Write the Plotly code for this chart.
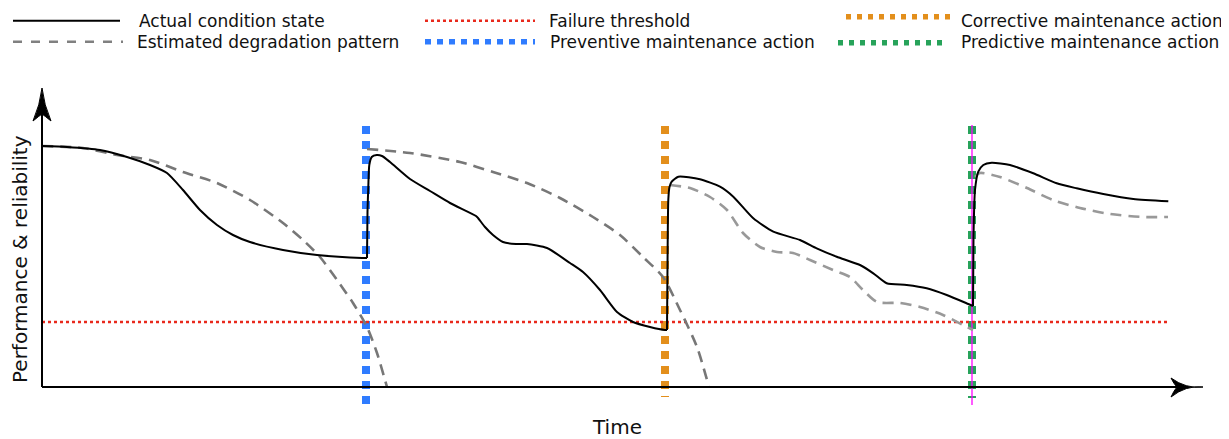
import plotly.graph_objects as go

# ---------------- data (time units, performance units) ----------------
actual_t1 = [0, 25, 58, 85, 108, 125, 141, 158, 175, 191, 208, 241, 275, 320, 325]
actual_p1 = [241, 240, 237, 230, 222, 214, 197, 177, 162, 152, 145, 137, 132, 129, 129]

actual_t2 = [325, 325.5, 326.3, 327.3, 329.7, 334.7, 340, 348, 368, 388, 408, 434, 436,
             443, 451, 461, 474, 485, 505, 528, 541, 558, 575, 591, 608, 623, 625]
actual_p2 = [129, 175, 200, 222, 230, 232, 231, 225, 208, 196, 184, 171, 169,
             160, 152, 145, 143, 143, 139, 124, 115, 97, 75, 65, 60, 57, 57]

actual_t3 = [625, 625.5, 626.3, 627.5, 629.7, 636.3, 658, 678, 691.3, 711.3, 731.3, 758,
             774.7, 794.7, 818, 831.3, 844.7, 864.7, 884.7, 904.7, 926.3, 931]
actual_p3 = [57, 120, 187, 200, 205.3, 210.3, 207.7, 200.3, 190.3, 168.7, 155.3, 147,
             138.7, 130.3, 122, 113.7, 103.7, 102, 98.7, 92, 83, 81]

actual_t4 = [931, 931.5, 933, 936.3, 941.3, 949.7, 968, 991.3, 1014.7, 1034.7, 1061.3, 1091.3, 1126.3]
actual_p4 = [81, 150, 197, 215.3, 222, 224.3, 222, 213.7, 203.7, 198.7, 193, 188, 185.7]

est_t1 = [0, 41, 75, 108, 141, 175, 208, 241, 261, 278, 295, 311, 325, 335, 343, 345]
est_p1 = [241, 239, 232, 227, 215, 204, 187, 164, 147, 130, 107, 84, 60, 34, 7, 0]

est_t2 = [325, 368, 418, 451, 485, 518, 551, 578, 601, 621, 638, 655, 667]
est_p2 = [238, 234, 225, 215, 204, 189, 170, 152, 130, 110, 77, 40, 0]

est_t3 = [628, 648, 668, 685, 701, 718, 735, 751, 768, 791, 808, 821, 835, 858, 878, 901, 925, 931]
est_p3 = [202, 199, 190, 177, 154, 140, 135, 134, 127, 117, 110, 97, 85, 84, 80, 72, 60, 57]

est_t4 = [933, 938, 958, 985, 1011, 1038, 1068, 1101, 1126]
est_p4 = [210, 214, 210, 199, 187, 179, 173, 170, 170]

threshold_t = [0, 1126]
threshold_p = [65, 65]

preventive_t = 324
corrective_t = 623
predictive_t = 930
action_top = 261
preventive_bottom = -21
corrective_bottom = -10
predictive_bottom = -11

legend_labels = ["Actual condition state", "Estimated degradation pattern",
                 "Failure threshold", "Preventive maintenance action",
                 "Corrective maintenance action", "Predictive maintenance action"]

# ---------------- styling ----------------
PAGE_MARGIN = 8          # default body margin of the html page
W, H = 1229 - PAGE_MARGIN, 439 - PAGE_MARGIN
X0, Y0 = 42, 387         # reference-pixel position of the origin
FONT = "DejaVu Sans"
FS_LEG = 17
FS_AX = 20
TXT = "#111111"
BLACK = "#000000"
GREY1 = "#777777"
GREY2 = "#999999"
RED = "#e8291c"
BLUE = "#2f7cff"
ORANGE = "#e38f1c"
GREEN = "#27a35a"
MAGENTA = "#ff00ff"


def px(x):
    return x - X0


def py(y):
    return Y0 - y


fig = go.Figure()

# maintenance actions (vertical markers)
for t, bot, col in [(preventive_t, preventive_bottom, BLUE),
                    (corrective_t, corrective_bottom, ORANGE),
                    (predictive_t, predictive_bottom, GREEN)]:
    fig.add_trace(go.Scatter(x=[t, t], y=[action_top, bot], mode="lines",
                             line=dict(color=col, width=8, dash="8px,7px"),
                             hoverinfo="skip"))
fig.add_trace(go.Scatter(x=[predictive_t, predictive_t], y=[action_top + 1, -18], mode="lines",
                         line=dict(color=MAGENTA, width=1.3), hoverinfo="skip"))

# failure threshold
fig.add_trace(go.Scatter(x=threshold_t, y=threshold_p, mode="lines",
                         line=dict(color=RED, width=2.6, dash="3px,3px"), hoverinfo="skip"))

# estimated degradation
for t, p, col in [(est_t1, est_p1, GREY1), (est_t2, est_p2, GREY1),
                  (est_t3, est_p3, GREY2), (est_t4, est_p4, GREY2)]:
    fig.add_trace(go.Scatter(x=t, y=p, mode="lines",
                             line=dict(color=col, width=2.6, dash="11px,7px", shape="spline", smoothing=0.7),
                             hoverinfo="skip"))

# actual condition
for t, p in [(actual_t1, actual_p1), (actual_t2, actual_p2),
             (actual_t3, actual_p3), (actual_t4, actual_p4)]:
    fig.add_trace(go.Scatter(x=t, y=p, mode="lines",
                             line=dict(color=BLACK, width=2, shape="spline", smoothing=0.6),
                             hoverinfo="skip"))

shapes = []
# axes
shapes.append(dict(type="line", x0=0, y0=0, x1=px(1180), y1=0, line=dict(color=BLACK, width=2)))
shapes.append(dict(type="line", x0=0, y0=0, x1=0, y1=py(112), line=dict(color=BLACK, width=2)))
# arrow heads
shapes.append(dict(type="path", fillcolor=BLACK, line=dict(color=BLACK, width=1),
                   path=f"M 0,{py(88)} Q 2,{py(105)} 9,{py(121)} Q 3,{py(116)} 0,{py(114)} "
                        f"Q -3,{py(116)} -9,{py(121)} Q -2,{py(105)} 0,{py(88)} Z"))
shapes.append(dict(type="path", fillcolor=BLACK, line=dict(color=BLACK, width=1),
                   path=f"M {px(1203)},0 Q {px(1186)},2 {px(1171)},{py(397)} Q {px(1177)},3 {px(1180)},0 "
                        f"Q {px(1177)},-3 {px(1171)},{py(378)} Q {px(1186)},-2 {px(1203)},0 Z"))

# legend samples
leg = [
    (13, 120, 20.7, BLACK, 2, "solid"),
    (13, 123, 41.7, "#808080", 2.6, "9px,9px"),
    (425, 535, 20.7, RED, 2.6, "3px,3px"),
    (425, 535, 41.7, BLUE, 5.5, "6px,6px"),
    (846, 955, 16.7, ORANGE, 5.5, "5px,6px"),
    (838, 948, 42.7, GREEN, 5.5, "5px,6px"),
]
for xa, xb, yy, col, w, d in leg:
    shapes.append(dict(type="line", x0=px(xa), x1=px(xb), y0=py(yy), y1=py(yy),
                       line=dict(color=col, width=w, dash=d)))

annotations = []
leg_text = [(137, 20.7), (135, 41.7), (547, 20.7), (548, 41.7), (959, 20.7), (959, 42.0)]
for (tx, tyy), lab in zip(leg_text, legend_labels):
    annotations.append(dict(x=px(tx), y=py(tyy), text=lab, showarrow=False, xanchor="left",
                            yanchor="middle", font=dict(family=FONT, size=FS_LEG, color=TXT)))
annotations.append(dict(x=px(617), y=py(427), text="Time", showarrow=False,
                        xanchor="center", yanchor="middle", font=dict(family=FONT, size=FS_AX, color=TXT)))
annotations.append(dict(x=px(20), y=py(259), text="Performance & reliability", showarrow=False, textangle=-90,
                        xanchor="center", yanchor="middle", font=dict(family=FONT, size=FS_AX, color=TXT)))

fig.update_layout(
    width=W, height=H, autosize=False,
    margin=dict(l=0, r=0, t=0, b=0),
    paper_bgcolor="white", plot_bgcolor="white",
    showlegend=False,
    xaxis=dict(range=[-(X0 - PAGE_MARGIN), W - (X0 - PAGE_MARGIN)], visible=False, fixedrange=True),
    yaxis=dict(range=[(Y0 - PAGE_MARGIN) - H, Y0 - PAGE_MARGIN], visible=False, fixedrange=True),
    shapes=shapes, annotations=annotations,
)

fig.write_html("out.html", config={"displayModeBar": False})
